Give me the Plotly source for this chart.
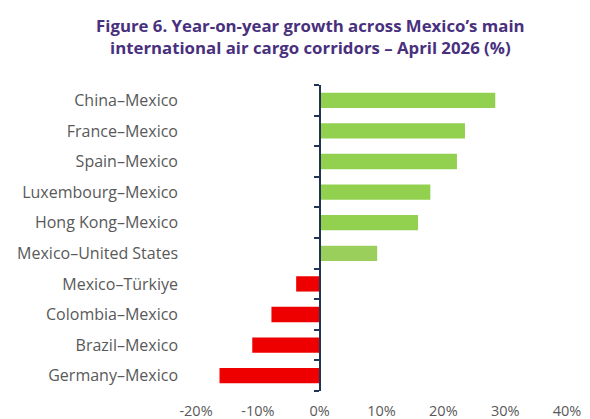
import plotly.graph_objects as go

# Corridors listed top to bottom, with year-on-year growth in percent
corridors = [
    "China–Mexico",
    "France–Mexico",
    "Spain–Mexico",
    "Luxembourg–Mexico",
    "Hong Kong–Mexico",
    "Mexico–United States",
    "Mexico–Türkiye",
    "Colombia–Mexico",
    "Brazil–Mexico",
    "Germany–Mexico",
]
growth_pct = [28.4, 23.5, 22.2, 17.9, 15.9, 9.3, -3.8, -7.8, -10.9, -16.2]

x_tick_vals = [-20, -10, 0, 10, 20, 30, 40]
x_tick_text = ["-20%", "-10%", "0%", "10%", "20%", "30%", "40%"]

GREEN = "#92D050"
GREEN_US = "#9BCF5C"
RED = "#EE0000"
NAVY = "#1F3553"
GREY = "#595959"
FONT = "'Open Sans', Lato, sans-serif"

colors = []
for name, v in zip(corridors, growth_pct):
    if v < 0:
        colors.append(RED)
    elif name == "Mexico–United States":
        colors.append(GREEN_US)
    else:
        colors.append(GREEN)

fig = go.Figure()

# Invisible trace carrying the category labels on the left-hand axis
fig.add_trace(go.Bar(
    x=[0] * len(corridors), y=corridors, orientation="h",
    yaxis="y", marker=dict(color="rgba(0,0,0,0)"),
    hoverinfo="skip", showlegend=False,
))

# Visible bars drawn against the axis that sits at x = 0
fig.add_trace(go.Bar(
    x=growth_pct, y=corridors, orientation="h",
    yaxis="y2",
    marker=dict(color=colors, line=dict(width=0)),
    showlegend=False,
))

fig.update_layout(
    width=590, height=419,
    margin=dict(l=196, r=23, t=85, b=28),
    paper_bgcolor="white", plot_bgcolor="white",
    bargap=0.5,
    barmode="overlay",
    font=dict(family=FONT, color=GREY),
    title=dict(
        text="Figure 6. Year-on-year growth across Mexico’s main<br>"
             "international air cargo corridors – April 2026 (%)",
        x=0.526, xanchor="center", yref="container", y=0.923, yanchor="middle",
        font=dict(family=FONT, size=16.8, color="#48307E", weight="bold"),
    ),
    xaxis=dict(
        range=[-20, 40],
        tickvals=x_tick_vals, ticktext=x_tick_text,
        showgrid=False, zeroline=False, showline=False, ticks="",
        tickfont=dict(size=14.5, color=GREY),
        ticklabelstandoff=9,
        automargin=False,
        fixedrange=True,
    ),
    yaxis=dict(
        categoryorder="array", categoryarray=corridors[::-1],
        autorange=False, range=[-0.5, len(corridors) - 0.5],
        showgrid=False, zeroline=False, showline=False, ticks="",
        tickfont=dict(size=16, color=GREY),
        ticklabelstandoff=17,
        automargin=False,
    ),
    yaxis2=dict(
        overlaying="y", anchor="free", position=1 / 3,
        categoryorder="array", categoryarray=corridors[::-1],
        autorange=False, range=[-0.5, len(corridors) - 0.5],
        showgrid=False, zeroline=False,
        showline=True, linecolor=NAVY, linewidth=2,
        ticks="outside", tickson="boundaries", ticklen=5,
        tickwidth=2, tickcolor=NAVY,
        showticklabels=False,
        automargin=False,
    ),
)

fig.write_html("out.html")
